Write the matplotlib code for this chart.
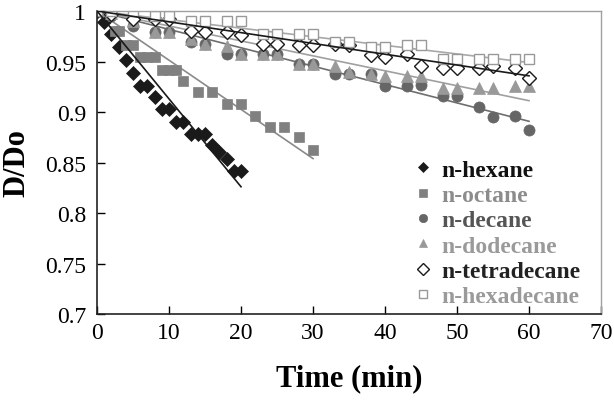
import numpy as np
import matplotlib
matplotlib.use("Agg")
import matplotlib.pyplot as plt
from matplotlib.ticker import FuncFormatter

plt.rcParams['font.family'] = ['Liberation Serif', 'DejaVu Serif']

names = ['n-hexane', 'n-octane', 'n-decane', 'n-dodecane', 'n-tetradecane', 'n-hexadecane']

# measured points
t_hex = [0, 1, 2, 3, 4, 5, 6, 7, 8, 9, 10, 11, 12, 13, 14, 15, 16, 17, 18, 19, 20]
d_hex = [1, 0.989, 0.977, 0.964, 0.951, 0.939, 0.926, 0.926, 0.915, 0.903, 0.903,
         0.89, 0.89, 0.878, 0.878, 0.878, 0.867, 0.86, 0.853, 0.842, 0.842]

t_oct = [0, 1, 2.5, 3, 4, 5, 6, 7, 8, 9, 10, 11, 12, 14, 16, 18, 20, 22, 24, 26, 28, 30]
d_oct = [1, 1, 0.98, 0.98, 0.966, 0.966, 0.954, 0.954, 0.954, 0.942, 0.942, 0.942,
         0.931, 0.92, 0.92, 0.908, 0.908, 0.896, 0.885, 0.885, 0.875, 0.862]

t_long = [0, 2, 5, 8, 10, 13, 15, 18, 20, 23, 25, 28, 30, 33, 35, 38, 40, 43, 45, 48, 50, 53, 55, 58, 60]
d_dec = [1, 0.995, 0.985, 0.979, 0.979, 0.969, 0.967, 0.957, 0.957, 0.957, 0.957, 0.948, 0.948,
         0.938, 0.938, 0.938, 0.926, 0.926, 0.927, 0.916, 0.916, 0.905, 0.895, 0.896, 0.882]
d_dod = [1, 0.998, 0.99, 0.979, 0.979, 0.972, 0.967, 0.965, 0.957, 0.957, 0.957, 0.948, 0.948,
         0.946, 0.94, 0.938, 0.936, 0.936, 0.936, 0.924, 0.924, 0.924, 0.924, 0.926, 0.926]
d_tet = [1, 0.997, 0.992, 0.992, 0.992, 0.98, 0.979, 0.979, 0.976, 0.967, 0.967, 0.966, 0.966,
         0.967, 0.966, 0.956, 0.954, 0.957, 0.946, 0.944, 0.944, 0.944, 0.946, 0.944, 0.934]
d_hxd = [1, 1, 1, 0.995, 0.995, 0.99, 0.99, 0.99, 0.99, 0.977, 0.977, 0.977, 0.977,
         0.969, 0.969, 0.964, 0.964, 0.966, 0.966, 0.952, 0.952, 0.952, 0.952, 0.952, 0.952]

# fitted decay slopes (D/Do = 1 - k t)
k_fit = [0.0087, 0.00487, 0.00182, 0.00148, 0.00107, 0.00085]
t_end = [20, 30, 60, 60, 60, 60]

times = [t_hex, t_oct, t_long, t_long, t_long, t_long]
vals = [d_hex, d_oct, d_dec, d_dod, d_tet, d_hxd]

markers = ['D', 's', 'o', '^', 'D', 's']
sizes = [7, 7, 8, 8.5, 7.5, 7.5]
faces = ['#1a1a1a', '#808080', '#666666', '#999999', 'white', 'white']
edges = ['#1a1a1a', '#808080', '#666666', '#999999', '#1a1a1a', '#999999']
line_cols = ['#1a1a1a', '#8a8a8a', '#6e6e6e', '#a0a0a0', '#1a1a1a', '#a8a8a8']
text_cols = ['#111111', '#8c8c8c', '#555555', '#9a9a9a', '#222222', '#9a9a9a']

fig = plt.figure(figsize=(6.14, 4.10), dpi=100)
ax = fig.add_axes([97 / 614, 1 - 315 / 410, 504 / 614, 303 / 410])

handles = []
for i in range(len(names)):
    tt = np.linspace(0, t_end[i], 2)
    ax.plot(tt, 1 - k_fit[i] * tt, color=line_cols[i], lw=1.2, zorder=3 if i in (0, 4) else 2)
    h, = ax.plot(times[i], vals[i], linestyle='none', marker=markers[i], ms=sizes[i],
                 mfc=faces[i], mec=edges[i], mew=1.0 if faces[i] == 'white' else 0.5,
                 label=names[i], zorder=2)
    handles.append(h)

ax.set_xlim(0, 70)
ax.set_ylim(0.7, 1.0)
ax.set_xticks(np.arange(0, 71, 10))
ax.set_yticks(np.arange(0.7, 1.001, 0.05))
ax.yaxis.set_major_formatter(FuncFormatter(lambda v, p: '%g' % round(v, 2)))
ax.tick_params(direction='in', length=6, width=1, labelsize=17, pad=8)
ax.tick_params(axis='x', pad=6)

for s in ['left', 'bottom']:
    ax.spines[s].set_color('#222222')
    ax.spines[s].set_linewidth(1.2)
for s in ['top', 'right']:
    ax.spines[s].set_color('#a0a0a0')
    ax.spines[s].set_linewidth(1.0)

ax.set_xlabel('Time (min)', fontsize=22, fontweight='bold', labelpad=14)
ax.set_ylabel('D/Do', fontsize=22, fontweight='bold', labelpad=10)

leg = ax.legend(handles=handles, loc='upper left', bbox_to_anchor=(0.61, 0.55),
                frameon=False, handlelength=0.6, handletextpad=0.45,
                labelspacing=0.16, borderpad=0, markerscale=0.75,
                prop={'weight': 'bold', 'size': 17})
for txt, c in zip(leg.get_texts(), text_cols):
    txt.set_color(c)

fig.savefig('out.png', dpi=100)
